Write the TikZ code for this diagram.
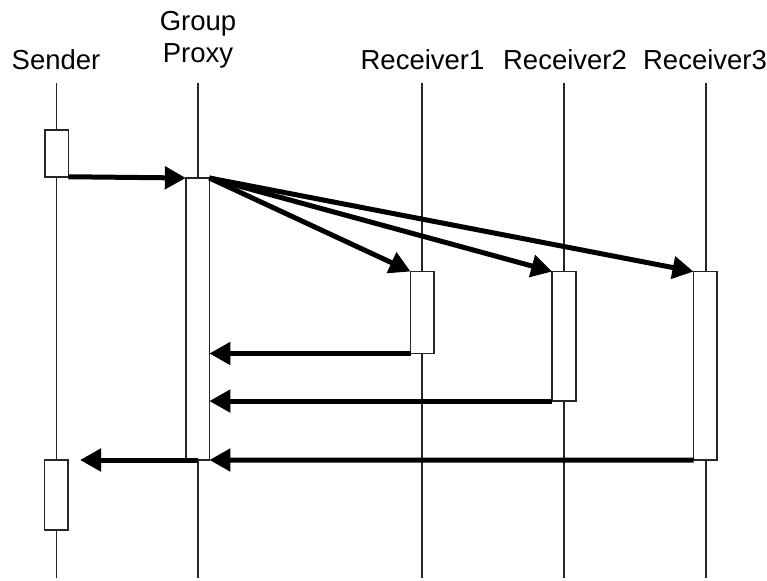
\documentclass[tikz,border=0pt]{standalone}
\usepackage{fontspec}
\setmainfont{Liberation Sans}
\usetikzlibrary{arrows.meta}
\newlength{\du}
\setlength{\du}{1pt}
\tikzset{
  lifeline/.style={draw=black!85, line width=1.6\du},
  actbox/.style={draw=black!85, fill=white, line width=1.6\du, minimum width=23.5\du, inner sep=0pt, outer sep=0pt},
  msg/.style={draw=black, line width=5\du, -{Triangle[length=21pt,width=22pt]}},
  lbl/.style={inner sep=0pt, font=\fontsize{27.5}{32}\selectfont, align=center}
}
\begin{document}
\begin{tikzpicture}
\pgftransformxscale{1.000000}
\pgftransformyscale{-1.000000}
\useasboundingbox (0\du,0\du) rectangle (767\du,580\du);
% labels
\node[lbl, anchor=base] (senderlbl) at (56\du,70\du) {Sender};
\node[lbl, anchor=south] (proxylbl) at (198\du,68.5\du) {Group\\Proxy};
\node[lbl, anchor=base] (recv1lbl) at (422.5\du,70\du) {Receiver1};
\node[lbl, anchor=base] (recv2lbl) at (565\du,70\du) {Receiver2};
\node[lbl, anchor=base] (recv3lbl) at (705\du,70\du) {Receiver3};
% lifelines
\draw[lifeline] (56.5\du,83\du) -- (56.5\du,578\du);
\draw[lifeline] (198\du,83\du) -- (198\du,578\du);
\draw[lifeline] (422\du,83\du) -- (422\du,578\du);
\draw[lifeline] (564\du,83\du) -- (564\du,578\du);
\draw[lifeline] (705.7\du,83\du) -- (705.7\du,578\du);
% activations
\node[actbox, minimum height=46.5\du] (send1) at (56.6\du,153.5\du) {};
\node[actbox, minimum height=70\du] (send2) at (56.3\du,495\du) {};
\node[actbox, minimum height=282\du] (proxy) at (197.6\du,319\du) {};
\node[actbox, minimum height=82\du] (recv1) at (422.3\du,312.5\du) {};
\node[actbox, minimum height=129.5\du] (recv2) at (564\du,336.3\du) {};
\node[actbox, minimum height=188.5\du] (recv3) at (705.3\du,365.8\du) {};
% messages
\draw[msg] (send1.south east) -- (proxy.north west);
\draw[msg] (proxy.north east) -- (recv1.north west);
\draw[msg] (proxy.north east) -- (recv2.north west);
\draw[msg] (proxy.north east) -- (recv3.north west);
\draw[msg] (recv1.south west) -- (recv1.south west -| proxy.east);
\draw[msg] (recv2.south west) -- (recv2.south west -| proxy.east);
\draw[msg] (recv3.south west) -- (proxy.south east);
\coordinate (back) at (80\du,460\du);
\draw[msg] (proxy.south) -- (back);
\end{tikzpicture}
\end{document}
